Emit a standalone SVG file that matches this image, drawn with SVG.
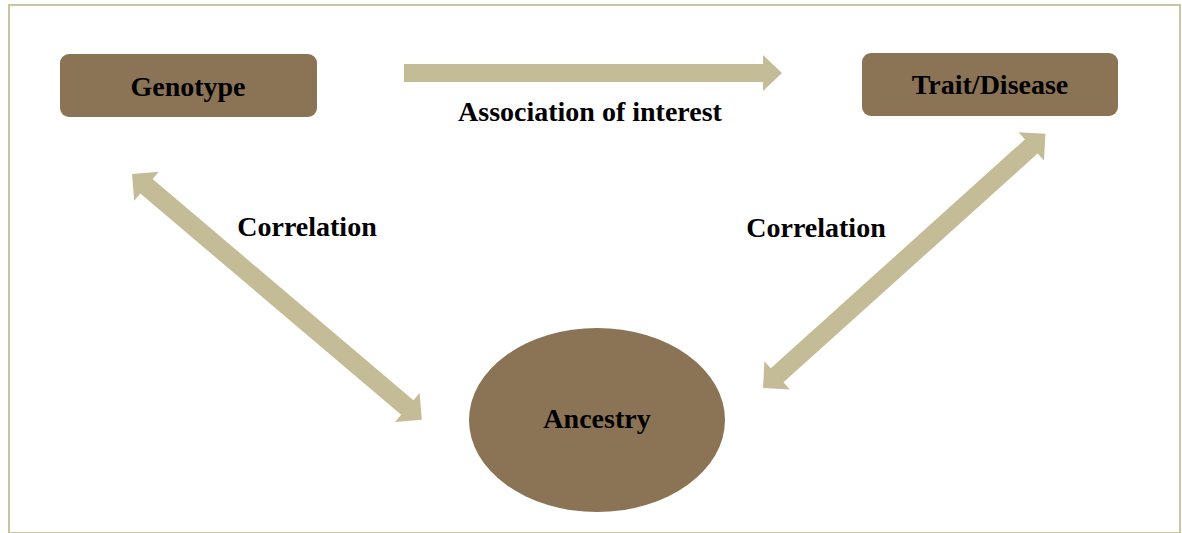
<svg xmlns="http://www.w3.org/2000/svg" xmlns:xlink="http://www.w3.org/1999/xlink" width="1182" height="533" viewBox="0 0 1182 533">
  <style>
    .node { fill: #8B7355; }
    .arrow { fill: #C4BC96; }
    .lbl { font-family: "Liberation Serif", "Times New Roman", serif; font-weight: bold; font-size: 28px; fill: #000; text-anchor: middle; }
  </style>
  <defs>
    <path id="dbl" d="M0,0 L19,-19 L19,-9.5 L361,-9.5 L361,-19 L380,0 L361,19 L361,9.5 L19,9.5 L19,19 Z"/>
  </defs>
  <rect width="1182" height="533" fill="#ffffff"/>
  <rect x="9" y="5" width="1171" height="528" fill="none" stroke="#CBC4A2" stroke-width="2"/>

  <g id="connectors">
    <path class="arrow" d="M404,64 L763,64 L763,55 L782,73 L763,91 L763,82 L404,82 Z"/>
    <use xlink:href="#dbl" class="arrow" transform="translate(132,174) rotate(40.3)"/>
    <use xlink:href="#dbl" class="arrow" transform="translate(763,388) rotate(-42)"/>
  </g>

  <g id="node-genotype">
    <rect class="node" x="60" y="54" width="257" height="63" rx="9"/>
    <text class="lbl" x="188" y="96">Genotype</text>
  </g>
  <g id="node-trait">
    <rect class="node" x="862" y="53" width="256" height="63" rx="9"/>
    <text class="lbl" x="990" y="94">Trait/Disease</text>
  </g>
  <g id="node-ancestry">
    <ellipse class="node" cx="597" cy="420" rx="128" ry="92"/>
    <text class="lbl" x="597" y="428">Ancestry</text>
  </g>

  <g id="labels">
    <text class="lbl" x="590" y="121">Association of interest</text>
    <text class="lbl" x="307" y="236">Correlation</text>
    <text class="lbl" x="816" y="237">Correlation</text>
  </g>
</svg>
